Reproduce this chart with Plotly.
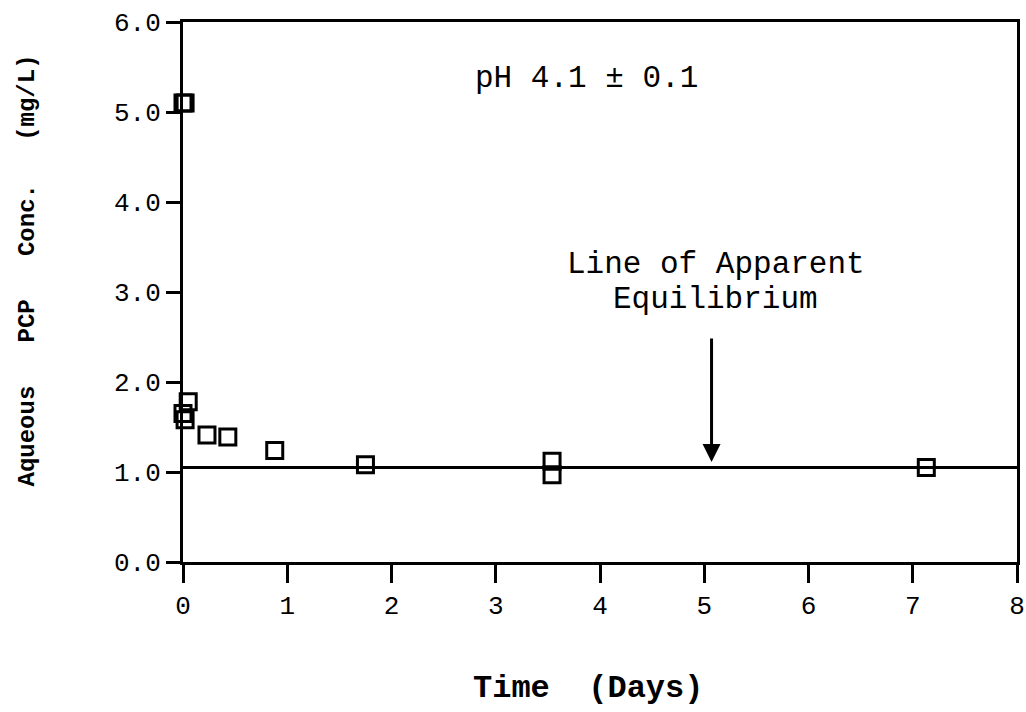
import plotly.graph_objects as go

# Aqueous PCP concentration vs. time, pH 4.1
time_days = [0.0, 0.02, 0.0, 0.02, 0.05, 0.23, 0.43, 0.88, 1.75, 3.54, 3.54, 7.13]
conc_mg_l = [5.10, 5.10, 1.65, 1.58, 1.78, 1.41, 1.39, 1.24, 1.08, 1.12, 0.97, 1.05]

equilibrium_conc = 1.05
x_range = [0, 8]
y_range = [0, 6]
x_ticks = [0, 1, 2, 3, 4, 5, 6, 7, 8]
y_ticks = [0.0, 1.0, 2.0, 3.0, 4.0, 5.0, 6.0]
arrow_x = 5.07

FONT = "Liberation Mono, Courier New, monospace"
NB = "\u00a0"

fig = go.Figure()

# horizontal line of apparent equilibrium
fig.add_trace(go.Scatter(
    x=x_range, y=[equilibrium_conc, equilibrium_conc],
    mode="lines", line=dict(color="black", width=3),
    hoverinfo="skip", showlegend=False,
))

fig.add_trace(go.Scatter(
    x=time_days, y=conc_mg_l, mode="markers",
    marker=dict(symbol="square-open", size=16, color="black",
                line=dict(color="black", width=3)),
    cliponaxis=False, showlegend=False,
))

text_font = dict(family=FONT, size=31, color="black")
fig.add_annotation(x=3.87, y=5.37, xref="x", yref="y", showarrow=False,
                   text="pH 4.1 ± 0.1", font=text_font)
fig.add_annotation(x=5.11, y=3.31, xref="x", yref="y", showarrow=False,
                   text="Line of Apparent", font=text_font)
fig.add_annotation(x=5.11, y=2.92, xref="x", yref="y", showarrow=False,
                   text="Equilibrium", font=text_font)
fig.add_annotation(
    x=arrow_x, y=equilibrium_conc + 0.06, ax=arrow_x, ay=2.5,
    xref="x", yref="y", axref="x", ayref="y",
    showarrow=True, arrowhead=2, arrowsize=1.2, arrowwidth=3,
    arrowcolor="black", text="",
)

# axis titles
fig.add_annotation(
    x=(588 - 183) / 834, y=-0.272, xref="paper", yref="paper",
    showarrow=False, text="Time" + NB * 2 + "(Days)",
    font=dict(family=FONT, size=32, color="black", weight="bold"),
)
fig.add_annotation(
    x=(11 - 183) / 834, y=(562 - 271) / 540, xref="paper", yref="paper",
    showarrow=False, textangle=-90,
    text="Aqueous" + NB * 3 + "PCP" + NB * 3 + "Conc." + NB * 3 + "(mg/L)",
    font=dict(family=FONT, size=24, color="black", weight="bold"),
)

axis_common = dict(
    ticks="outside", tickwidth=3, tickcolor="black", showline=True,
    linecolor="black", linewidth=3, mirror=True, showgrid=False,
    zeroline=False, automargin=False,
    tickfont=dict(family=FONT, size=26, color="black"),
)

fig.update_layout(
    width=1026, height=712,
    margin=dict(l=183, r=9, t=22, b=150),
    paper_bgcolor="white", plot_bgcolor="white",
    font=dict(family=FONT, color="black"),
    xaxis=dict(range=x_range, tickvals=x_ticks, ticklen=18, **axis_common),
    yaxis=dict(range=y_range, tickvals=y_ticks, tickformat=".1f",
               ticklen=14, **axis_common),
)

fig.write_html("out.html")
